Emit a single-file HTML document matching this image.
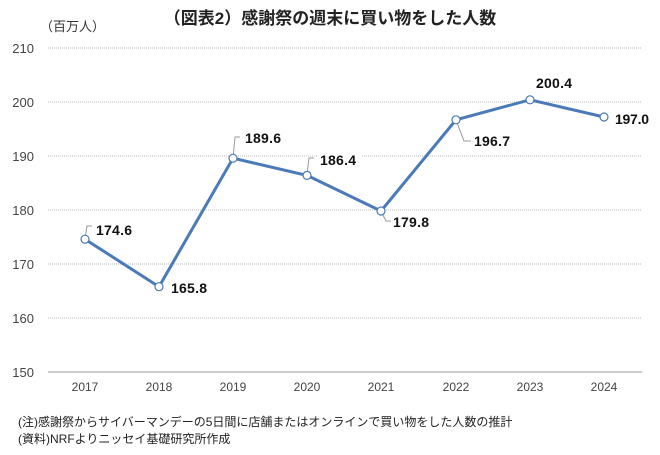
<!DOCTYPE html><html><head><meta charset="utf-8"><style>body{margin:0;background:#fff}svg{display:block}text{font-family:"Liberation Sans","Noto Sans CJK JP",sans-serif}</style></head><body>
<svg width="660" height="455" viewBox="0 0 660 455">
<text x="330" y="24" text-anchor="middle" font-size="17" font-weight="bold" fill="#222">（図表2）感謝祭の週末に買い物をした人数</text>
<text x="40" y="31" font-size="13" fill="#333">（百万人）</text>
<g stroke="#bbb" stroke-width="1" stroke-dasharray="1,1">
<line x1="48" x2="642" y1="48" y2="48"/><line x1="48" x2="642" y1="102" y2="102"/><line x1="48" x2="642" y1="156" y2="156"/><line x1="48" x2="642" y1="210" y2="210"/><line x1="48" x2="642" y1="264" y2="264"/><line x1="48" x2="642" y1="318" y2="318"/></g>
<line x1="48" x2="642" y1="372" y2="372" stroke="#999"/>
<g font-size="13" fill="#444" text-anchor="end">
<text x="34" y="53">210</text><text x="34" y="107">200</text><text x="34" y="161">190</text><text x="34" y="215">180</text><text x="34" y="269">170</text><text x="34" y="323">160</text><text x="34" y="377">150</text></g>
<g font-size="12" fill="#444" text-anchor="middle">
<text x="85" y="391">2017</text><text x="159" y="391">2018</text><text x="233" y="391">2019</text><text x="307" y="391">2020</text><text x="381" y="391">2021</text><text x="456" y="391">2022</text><text x="530" y="391">2023</text><text x="604" y="391">2024</text></g>
<g fill="#fff"><rect x="317" y="150" width="44" height="18"/><rect x="390" y="212" width="44" height="18"/><rect x="432" y="131" width="88" height="18"/></g>
<g stroke="#999" fill="none" stroke-width="1">
<polyline points="85,239 87,226 92,226"/><polyline points="233,158 235,137 240,137"/><polyline points="307,175 309,158 314,158"/><polyline points="381,211 386,221 391,221"/><polyline points="456,120 464,141 471,141"/></g>
<polyline points="85,239.2 159,286.7 233,158.2 307,175.4 381,211 456,119.8 530,99.8 604,117" fill="none" stroke="#4a7ab8" stroke-width="3" stroke-linejoin="round"/>
<g fill="#fff" stroke="#4a7ab8" stroke-width="1.2">
<circle cx="85" cy="239.2" r="4"/><circle cx="159" cy="286.7" r="4"/><circle cx="233" cy="158.2" r="4"/><circle cx="307" cy="175.4" r="4"/><circle cx="381" cy="211" r="4"/><circle cx="456" cy="119.8" r="4"/><circle cx="530" cy="99.8" r="4"/><circle cx="604" cy="117" r="4"/></g>
<g font-size="14" font-weight="bold" fill="#111">
<text x="96" y="235" textLength="36">174.6</text><text x="171" y="293" textLength="36">165.8</text><text x="245" y="143" textLength="36">189.6</text><text x="320" y="165" textLength="36">186.4</text><text x="393" y="227" textLength="36">179.8</text><text x="474" y="146" textLength="36">196.7</text><text x="536" y="88" textLength="36">200.4</text><text x="615" y="124" textLength="34">197.0</text></g>
<g font-size="12" fill="#222"><text x="18" y="426">(注)感謝祭からサイバーマンデーの5日間に店舗またはオンラインで買い物をした人数の推計</text><text x="18" y="443">(資料)NRFよりニッセイ基礎研究所作成</text></g>
</svg></body></html>
